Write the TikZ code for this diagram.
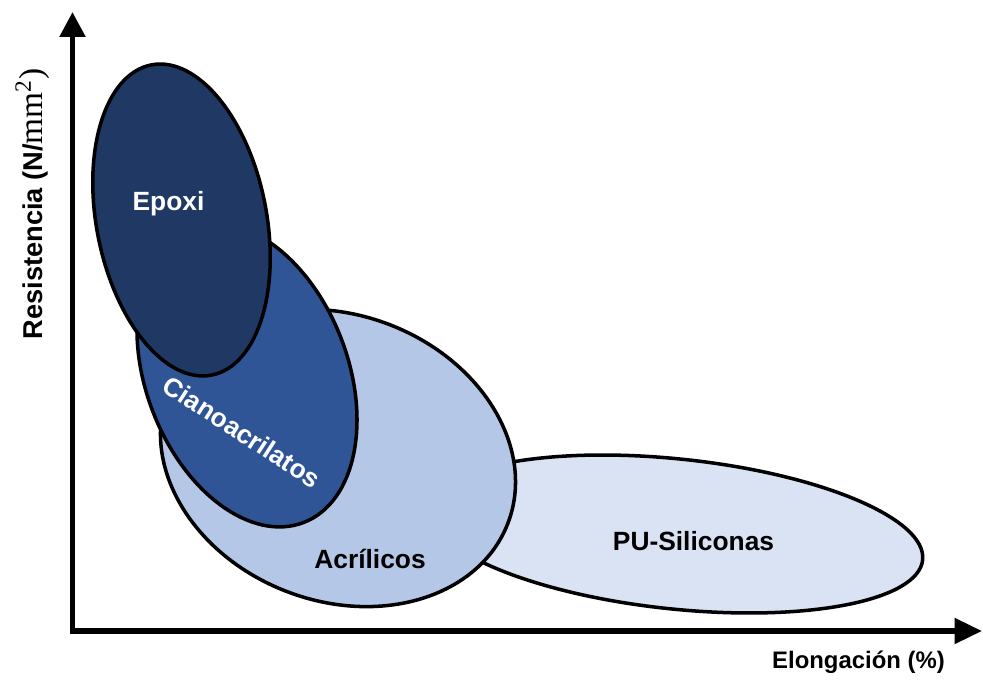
\documentclass[tikz,border=0pt]{standalone}
\usepackage{fontspec}
\setmainfont{Liberation Sans}
\newfontfamily\unitfont{Liberation Serif}
\usetikzlibrary{arrows.meta}
\definecolor{epoxiblue}{HTML}{203864}
\definecolor{cianoblue}{HTML}{2F5597}
\definecolor{acriblue}{HTML}{B4C7E7}
\definecolor{publue}{HTML}{DAE3F3}
\tikzset{
  blob/.style={draw=black,line width=2pt},
  axis/.style={line width=3pt,line join=miter,{Triangle[length=5mm,width=5mm]}-{Triangle[length=5.5mm,width=5mm]}},
  lbl/.style={font=\bfseries\fontsize{15}{18}\selectfont,inner sep=0pt},
}

\begin{document}
\begin{tikzpicture}
  \useasboundingbox (0,0) rectangle (19.66,13.62);
  % axes
  \coordinate (o) at (1.45,1.0);
  \coordinate (ymax) at (1.45,13.38);
  \coordinate (xmax) at (19.64,1.0);
  % regions, back to front
  \filldraw[blob,fill=publue,rotate around={-6:(13.52,2.94)}] (13.52,2.94) ellipse [x radius=4.96,y radius=1.5];
  \filldraw[blob,fill=acriblue,rotate around={-21:(6.76,4.46)}] (6.76,4.46) ellipse [x radius=3.64,y radius=2.86];
  \filldraw[blob,fill=cianoblue,rotate around={21:(4.94,6.12)}] (4.94,6.12) ellipse [x radius=2.02,y radius=3.16];
  \filldraw[blob,fill=epoxiblue,rotate around={11:(3.63,9.22)}] (3.63,9.22) ellipse [x radius=1.70,y radius=3.16];
  \node[lbl,text=white,anchor=base] (epoxi) at (3.37,9.40) {Epoxi};
  \node[lbl,text=white,rotate=-33] (ciano) at (4.84,4.98) {Cianoacrilatos};
  \node[lbl,anchor=base] (acril) at (7.40,2.26) {Acrílicos};
  \node[lbl,anchor=base] (pu) at (13.87,2.62) {PU-Siliconas};
  \draw[axis] (ymax) -- (o) -- (xmax);
  \node[lbl,font=\bfseries\fontsize{13.6}{16}\selectfont,anchor=base] (xlabel) at (17.17,0.26) {Elongación (\%)};
  \node[lbl,font=\bfseries\fontsize{15.5}{18}\selectfont,anchor=base,rotate=90] (ylabel) at (0.84,9.54)
    {Resistencia (N/{\mdseries\unitfont\fontsize{19}{22}\selectfont mm\textsuperscript{2})}};
\end{tikzpicture}
\end{document}
